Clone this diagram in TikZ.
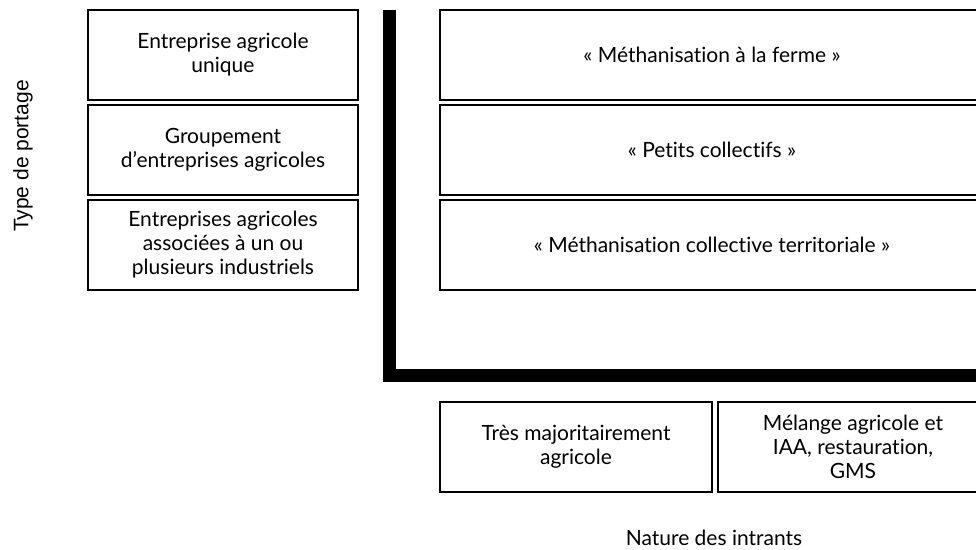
\documentclass[tikz,border=0pt]{standalone}
\usepackage{fontspec}
\setmainfont{Lato}[Ligatures=NoCommon]
\newfontfamily\arialfont{Liberation Sans}
\usepackage{tikz}
\usetikzlibrary{calc,positioning}

\tikzset{
  cell/.style={draw=black, line width=0.8pt, align=center, inner sep=0pt,
    font=\fontsize{15.75}{18}\selectfont},
  axislabel/.style={inner sep=0pt, font=\fontsize{15.75}{18}\selectfont}
}

\begin{document}
\begin{tikzpicture}[x=0.75pt,y=0.75pt,yscale=-1,xscale=1]
\useasboundingbox (0,0) rectangle (976,550);
\clip (0,0) rectangle (976,550);
%Type de portage (left column)
\node [cell, minimum width=202.5pt, minimum height=67.5pt] (unique) at (223,55) {Entreprise agricole\\unique};
\node [cell, minimum width=202.5pt, minimum height=67.5pt] (groupement) at (223,150) {Groupement\\d’entreprises agricoles};
\node [cell, minimum width=202.5pt, minimum height=67.5pt] (industriels) at (223,245) {Entreprises agricoles\\associées à un ou\\plusieurs industriels};
%Categories (right column)
\node [cell, minimum width=408pt, minimum height=67.5pt] (ferme) at (712,55) {«~Méthanisation à la ferme~»};
\node [cell, minimum width=408pt, minimum height=67.5pt] (petits) at (712,150) {«~Petits collectifs~»};
\node [cell, minimum width=408pt, minimum height=67.5pt] (territoriale) at (712,245) {«~Méthanisation collective territoriale~»};
%Nature des intrants (bottom row)
\node [cell, minimum width=204pt, minimum height=67.5pt] (agricole) at (576,447) {Très majoritairement\\agricole};
\node [cell, minimum width=202.5pt, minimum height=67.5pt] (melange) at (853,447) {Mélange agricole et\\IAA, restauration,\\GMS};
%Thick L axis
\draw [line width=9.75pt, line join=miter] (389.5,10) -- (389.5,375.5) -- (995,375.5);
%Axis labels
\node [axislabel, rotate=90, font=\arialfont\fontsize{15.75}{18}\selectfont] (portage) at (23,156) {Type de portage};
\node [axislabel] (intrants) at (714,538) {Nature des intrants};
\end{tikzpicture}
\end{document}
